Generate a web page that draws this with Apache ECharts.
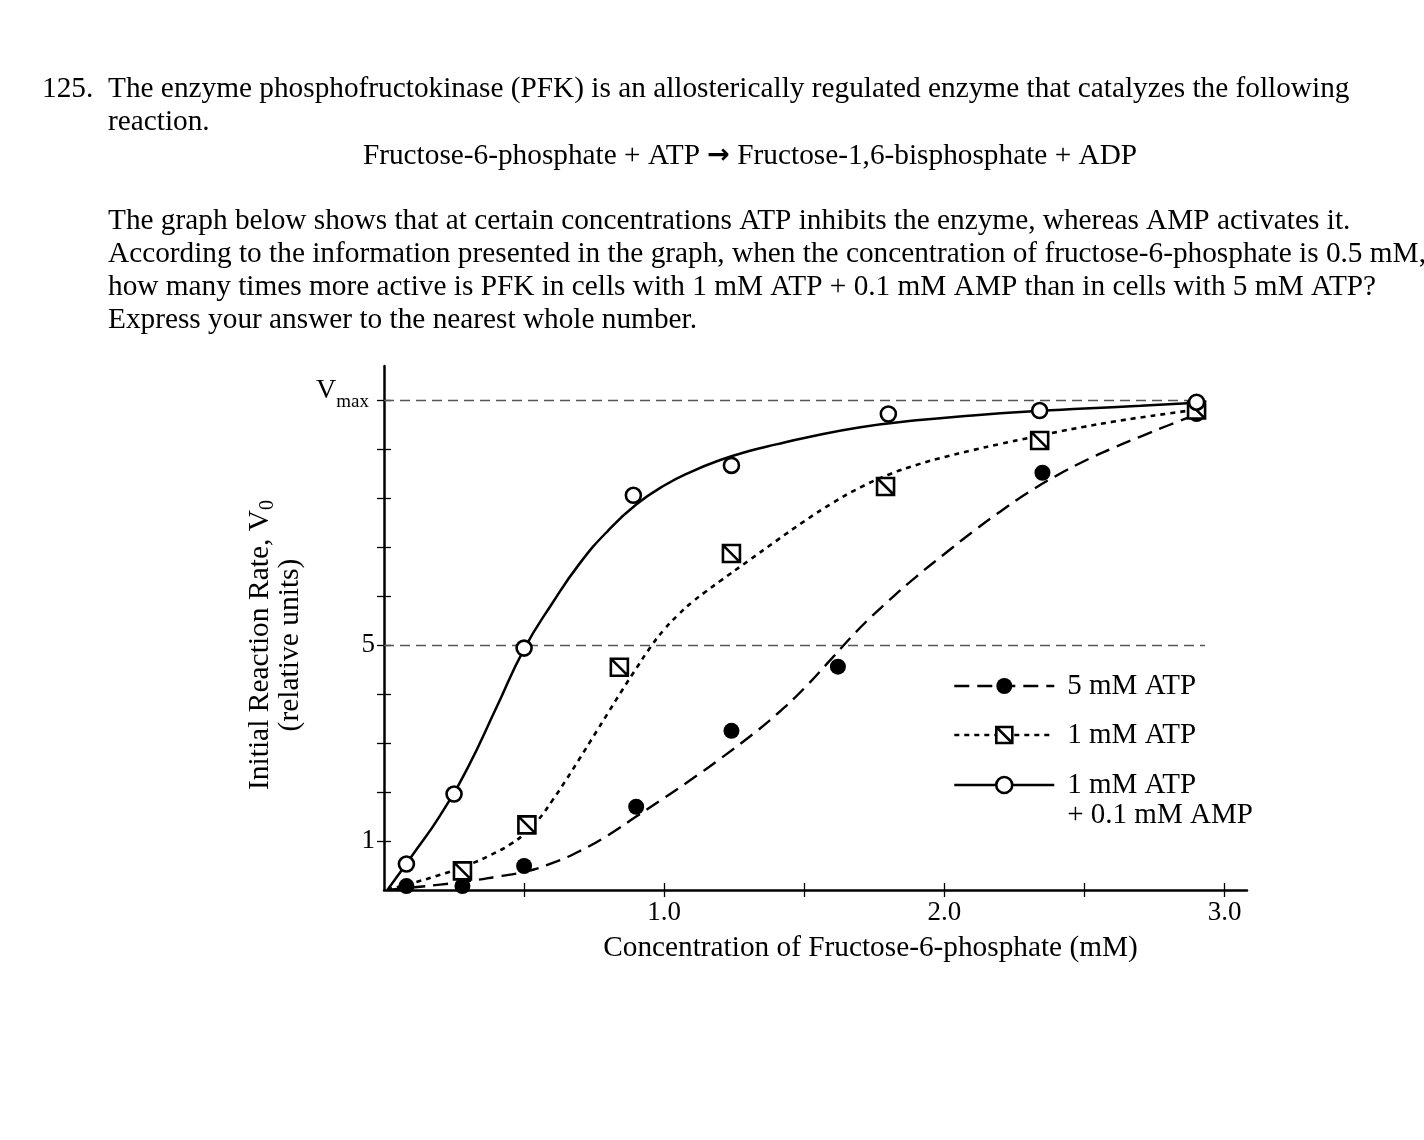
<!DOCTYPE html>
<html>
<head>
<meta charset="utf-8">
<script src="https://cdn.jsdelivr.net/npm/echarts@6/dist/echarts.min.js"></script>
<style>
html,body{margin:0;padding:0;background:#fff;}
#c{width:1424px;height:1140px;}
</style>
</head>
<body>
<div id="c"></div>
<script>
// ---------------- data ----------------
const seriesNames = ['5 mM ATP', '1 mM ATP', '1 mM ATP + 0.1 mM AMP'];

// measured points (Fructose-6-phosphate mM, relative rate)
const atp5X = [0.08, 0.28, 0.50, 0.90, 1.24, 1.62, 2.35, 2.90];
const atp5Y = [0.08, 0.08, 0.49, 1.70, 3.25, 4.56, 8.52, 9.72];
const atp1X = [0.28, 0.51, 0.84, 1.24, 1.79, 2.34, 2.90];
const atp1Y = [0.39, 1.33, 4.55, 6.87, 8.24, 9.18, 9.80];
const ampX  = [0.08, 0.25, 0.50, 0.89, 1.24, 1.80, 2.34, 2.90];
const ampY  = [0.53, 1.96, 4.94, 8.06, 8.67, 9.72, 9.79, 9.96];

// fitted curves
const atp5CurveX = [0.012, 0.1, 0.2, 0.3, 0.4, 0.5, 0.6, 0.7, 0.8, 0.9, 1.0, 1.1, 1.2, 1.3, 1.4, 1.5, 1.6, 1.7, 1.8, 1.9, 2.0, 2.1, 2.2, 2.3, 2.4, 2.5, 2.6, 2.7, 2.8, 2.9];
const atp5CurveY = [0.00, 0.05, 0.11, 0.18, 0.27, 0.37, 0.55, 0.80, 1.12, 1.50, 1.88, 2.27, 2.68, 3.11, 3.58, 4.12, 4.74, 5.36, 5.90, 6.40, 6.86, 7.31, 7.73, 8.12, 8.46, 8.76, 9.02, 9.26, 9.49, 9.71];
const atp1CurveX = [0.012, 0.1, 0.2, 0.3, 0.4, 0.45, 0.5, 0.55, 0.6, 0.65, 0.7, 0.75, 0.8, 0.85, 0.9, 0.95, 1.0, 1.05, 1.1, 1.15, 1.2, 1.3, 1.4, 1.5, 1.6, 1.7, 1.8, 1.9, 2.0, 2.1, 2.2, 2.3, 2.4, 2.5, 2.6, 2.7, 2.8, 2.9];
const atp1CurveY = [0.01, 0.14, 0.31, 0.51, 0.77, 0.93, 1.14, 1.43, 1.82, 2.25, 2.70, 3.16, 3.62, 4.08, 4.52, 4.95, 5.32, 5.62, 5.88, 6.10, 6.31, 6.72, 7.13, 7.53, 7.90, 8.22, 8.48, 8.68, 8.84, 8.98, 9.11, 9.23, 9.35, 9.46, 9.56, 9.65, 9.73, 9.81];
const ampCurveX  = [0.012, 0.1, 0.2, 0.3, 0.4, 0.5, 0.6, 0.7, 0.8, 0.9, 1.0, 1.1, 1.2, 1.3, 1.4, 1.5, 1.7, 1.9, 2.1, 2.3, 2.5, 2.7, 2.9];
const ampCurveY  = [0.00, 0.70, 1.52, 2.51, 3.71, 4.92, 5.85, 6.68, 7.34, 7.87, 8.26, 8.55, 8.78, 8.96, 9.10, 9.23, 9.45, 9.59, 9.69, 9.77, 9.83, 9.89, 9.95];

// axes
const xTickValues  = [0.5, 1.0, 1.5, 2.0, 2.5, 3.0];
const xLabelValues = [1.0, 2.0, 3.0];
const yTickValues  = [1, 2, 3, 4, 5, 6, 7, 8, 9, 10];
const yLabelValues = [1, 5, 10];
const yLabelTexts  = ['1', '5', 'Vmax'];
const refLevels    = [5, 10];      // dashed reference lines (5 and Vmax)
const refLineEndX  = 2.93;

const xAxisTitle = 'Concentration of Fructose-6-phosphate (mM)';
const yAxisTitle1 = 'Initial Reaction Rate, V';
const yAxisTitleSub = '0';
const yAxisTitle2 = '(relative units)';

const questionNumber = '125.';
const questionLines = [
  'The enzyme phosphofructokinase (PFK) is an allosterically regulated enzyme that catalyzes the following',
  'reaction.',
  'Fructose-6-phosphate + ATP \u2192 Fructose-1,6-bisphosphate + ADP',
  'The graph below shows that at certain concentrations ATP inhibits the enzyme, whereas AMP activates it.',
  'According to the information presented in the graph, when the concentration of fructose-6-phosphate is 0.5 mM,',
  'how many times more active is PFK in cells with 1 mM ATP + 0.1 mM AMP than in cells with 5 mM ATP?',
  'Express your answer to the nearest whole number.'
];

// ---------------- chart ----------------
const FONT = '"Liberation Serif", "Times New Roman", Times, serif';
const BLACK = '#000';
const squareSym = 'path://M0,0H10V10H0ZM0,0L10,10';

function pairs(xs, ys) { return xs.map((x, i) => [x, ys[i]]); }

const styles = {
  '5 mM ATP': {
    symbol: 'circle', symbolSize: 16,
    itemStyle: { color: BLACK, borderColor: BLACK, borderWidth: 0, opacity: 1 },
    lineStyle: { color: BLACK, width: 2.4, type: [15, 8] }
  },
  '1 mM ATP': {
    symbol: squareSym, symbolSize: 17,
    itemStyle: { color: '#fff', borderColor: BLACK, borderWidth: 2.6, opacity: 1 },
    lineStyle: { color: BLACK, width: 2.6, type: [5, 5] }
  },
  '1 mM ATP + 0.1 mM AMP': {
    symbol: 'circle', symbolSize: 15,
    itemStyle: { color: '#fff', borderColor: BLACK, borderWidth: 2.6, opacity: 1 },
    lineStyle: { color: BLACK, width: 2.5, type: 'solid' }
  }
};

const curveData = [pairs(atp5CurveX, atp5CurveY), pairs(atp1CurveX, atp1CurveY), pairs(ampCurveX, ampCurveY)];
const pointData = [pairs(atp5X, atp5Y), pairs(atp1X, atp1Y), pairs(ampX, ampY)];

const series = [];
seriesNames.forEach((name, i) => {
  const s = styles[name];
  const lineSeries = {
    name: name, type: 'line', xAxisIndex: 0, yAxisIndex: 0,
    data: curveData[i], showSymbol: false, symbol: s.symbol, symbolSize: s.symbolSize,
    smooth: 0.5, silent: true, z: 3,
    itemStyle: s.itemStyle, lineStyle: s.lineStyle
  };
  if (i === 0) {
    lineSeries.markLine = {
      silent: true, symbol: ['none', 'none'], animation: false,
      label: { show: false },
      lineStyle: { type: [10, 6], color: '#555', width: 1.3 },
      data: refLevels.map(v => [{ coord: [0, v] }, { coord: [refLineEndX, v] }])
    };
  }
  series.push(lineSeries);
});
seriesNames.forEach((name, i) => {
  const s = styles[name];
  series.push({
    name: name, type: 'scatter', xAxisIndex: 0, yAxisIndex: 0,
    data: pointData[i], symbol: s.symbol, symbolSize: s.symbolSize,
    itemStyle: s.itemStyle, silent: true, z: 5
  });
});

const legendText = { fontSize: 29, fontFamily: FONT, color: BLACK, lineHeight: 30, padding: [0, 0, 0, 8] };
function legendItem(name) {
  const s = styles[name];
  return { name: name, itemStyle: Object.assign({}, s.itemStyle), lineStyle: Object.assign({}, s.lineStyle) };
}

const graphics = [];
const qFont = '29.3px ' + FONT;
graphics.push({ type: 'text', x: 42, y: 89, silent: true,
  style: { text: questionNumber, font: qFont, fill: BLACK, align: 'left', verticalAlign: 'middle', textAlign: 'left', textVerticalAlign: 'middle' } });
const qPos = [[108, 89, 'left'], [108, 122, 'left'], [750, 156, 'center'], [108, 221, 'left'], [108, 254, 'left'], [108, 287, 'left'], [108, 320, 'left']];
questionLines.forEach((t, i) => {
  const p = qPos[i];
  let txt = t;
  let rich;
  if (t.indexOf('\u2192') >= 0) {
    const parts = t.split('\u2192');
    txt = '{n|' + parts[0] + '}{a|\u2192}{n|' + parts[1] + '}';
    rich = {
      n: { font: qFont, fill: BLACK, fontSize: 29.3, fontFamily: FONT },
      a: { fontSize: 27, fontFamily: '"DejaVu Sans", sans-serif', fontWeight: 'bold', fill: BLACK }
    };
  }
  const st = { text: txt, font: qFont, fill: BLACK, align: p[2], verticalAlign: 'middle', textAlign: p[2], textVerticalAlign: 'middle' };
  if (rich) st.rich = rich;
  graphics.push({ type: 'text', x: p[0], y: p[1], silent: true, style: st });
});

const axisCommon = {
  min: 0, type: 'value', splitLine: { show: false }
};

const option = {
  animation: false,
  backgroundColor: '#fff',
  textStyle: { fontFamily: FONT, color: BLACK },
  grid: { left: 384, right: 177, top: 366, bottom: 250, containLabel: false, outerBoundsMode: 'none' },
  xAxis: [
    Object.assign({}, axisCommon, {
      max: 3.08, position: 'bottom',
      axisLine: { show: true, onZero: false, lineStyle: { color: BLACK, width: 2.5 } },
      axisTick: { show: true, length: 7, lineStyle: { color: BLACK, width: 1.3 }, customValues: xTickValues },
      axisLabel: { customValues: xLabelValues, formatter: v => Number(v).toFixed(1), margin: 8,
        fontSize: 27, fontFamily: FONT, color: BLACK, lineHeight: 30 },
      name: xAxisTitle, nameLocation: 'middle', nameGap: 43,
      nameTextStyle: { fontSize: 29.3, fontFamily: FONT, color: BLACK, lineHeight: 30, padding: [0, 0, 0, 110] }
    }),
    Object.assign({}, axisCommon, {
      max: 3.08, position: 'bottom',
      axisLine: { show: false },
      axisTick: { show: true, inside: true, length: 7, lineStyle: { color: BLACK, width: 1.3 }, customValues: xTickValues },
      axisLabel: { show: false }
    })
  ],
  yAxis: [
    Object.assign({}, axisCommon, {
      max: 10.7, position: 'left',
      axisLine: { show: true, onZero: false, lineStyle: { color: BLACK, width: 2.5 } },
      axisTick: { show: true, length: 7, lineStyle: { color: BLACK, width: 1.3 }, customValues: yTickValues },
      axisLabel: {
        customValues: yLabelValues, margin: 9, fontSize: 27, fontFamily: FONT, color: BLACK,
        formatter: v => {
          const t = yLabelTexts[yLabelValues.indexOf(Math.round(v))] || '';
          return t === 'Vmax' ? '{v|V}{m|max}' : t;
        },
        rich: {
          v: { fontSize: 28, fontFamily: FONT, color: BLACK, padding: [0, 0, 20, 0], verticalAlign: 'middle' },
          m: { fontSize: 19, fontFamily: FONT, color: BLACK, padding: [4, 6, 0, 0], verticalAlign: 'middle' }
        }
      },
      name: '{t|' + yAxisTitle1 + '}{s|' + yAxisTitleSub + '}\n{t|' + yAxisTitle2 + '}',
      nameLocation: 'middle', nameRotate: 90, nameGap: 77,
      nameTextStyle: {
        padding: [0, 34, 0, 0],
        rich: {
          t: { fontSize: 29.5, fontFamily: FONT, color: BLACK, lineHeight: 30 },
          s: { fontSize: 20, fontFamily: FONT, color: BLACK, lineHeight: 14, padding: [16, 0, 0, 0] }
        }
      }
    }),
    Object.assign({}, axisCommon, {
      max: 10.7, position: 'left',
      axisLine: { show: false },
      axisTick: { show: true, inside: true, length: 7, lineStyle: { color: BLACK, width: 1.3 }, customValues: yTickValues },
      axisLabel: { show: false }
    })
  ],
  legend: [
    {
      orient: 'vertical', left: 953, top: 671, padding: 0, itemGap: 19,
      itemWidth: 100, itemHeight: 20, selectedMode: false,
      data: [legendItem(seriesNames[0]), legendItem(seriesNames[1])],
      textStyle: legendText
    },
    {
      orient: 'vertical', left: 953, top: 740, padding: 0,
      itemWidth: 100, itemHeight: 20, selectedMode: false,
      data: [legendItem(seriesNames[2])],
      formatter: n => '\n' + n.replace(' + ', '\n+ '),
      textStyle: legendText
    }
  ],
  series: series,
  graphic: graphics
};

const chart = echarts.init(document.getElementById('c'), null, { renderer: 'canvas' });
chart.setOption(option);
</script>
</body>
</html>
